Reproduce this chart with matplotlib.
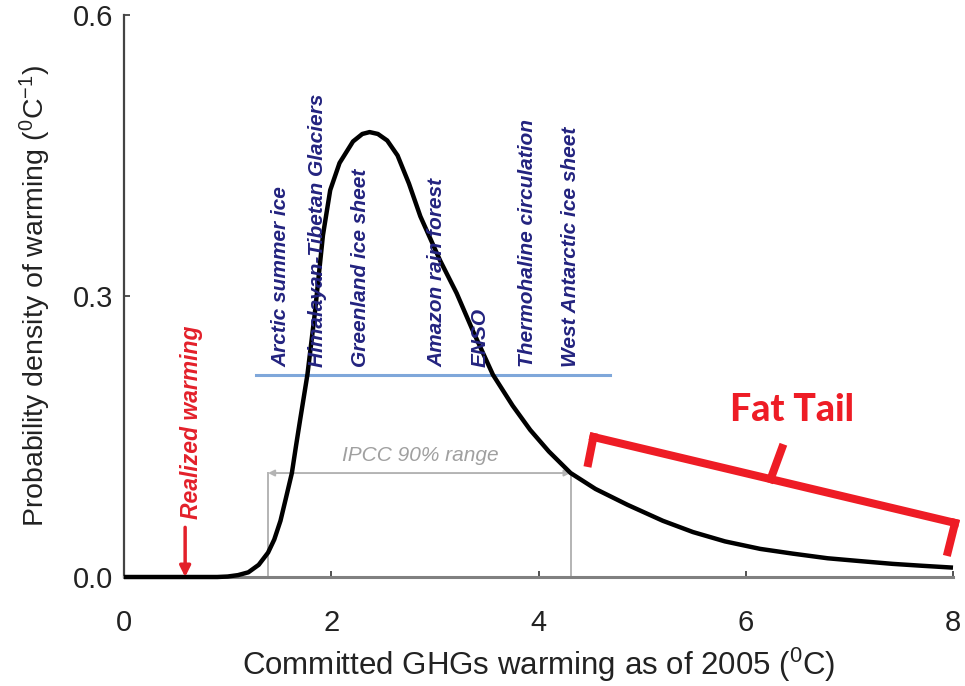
import matplotlib
matplotlib.use("Agg")
import matplotlib.pyplot as plt

plt.rcParams['font.family'] = ['Liberation Sans', 'DejaVu Sans']
plt.rcParams['mathtext.fontset'] = 'custom'
plt.rcParams['mathtext.rm'] = 'Liberation Sans'
plt.rcParams['mathtext.it'] = 'Liberation Sans:italic'

# ---- data ----
warming_x = [0.0, 0.5, 0.9, 1.0, 1.1, 1.2, 1.3, 1.39, 1.45, 1.51, 1.56, 1.62, 1.66,
             1.70, 1.77, 1.84, 1.92, 1.99, 2.08, 2.21, 2.30, 2.37, 2.45, 2.54, 2.64,
             2.75, 2.86, 3.05, 3.21, 3.37, 3.56, 3.75, 3.92, 4.10, 4.31, 4.55, 4.86,
             5.20, 5.49, 5.80, 6.14, 6.45, 6.79, 7.10, 7.42, 7.70, 8.0]
density_y = [0.0, 0.0, 0.0, 0.0005, 0.002, 0.005, 0.013, 0.026, 0.040, 0.060, 0.083,
             0.111, 0.140, 0.168, 0.216, 0.280, 0.365, 0.413, 0.442, 0.465, 0.473,
             0.475, 0.473, 0.466, 0.450, 0.420, 0.385, 0.338, 0.303, 0.262, 0.216,
             0.183, 0.157, 0.134, 0.111, 0.094, 0.077, 0.060, 0.048, 0.038, 0.030,
             0.025, 0.020, 0.017, 0.014, 0.012, 0.010]

tipping_labels = ["Arctic summer ice", "Himalayan-Tibetan Glaciers", "Greenland ice sheet",
                  "Amazon rain forest", "ENSO", "Thermohaline circulation",
                  "West Antarctic ice sheet"]
tipping_x = [1.51, 1.87, 2.28, 3.02, 3.44, 3.89, 4.31]
tipping_level = 0.216
tipping_span = [1.27, 4.69]

ipcc_range = [1.39, 4.31]
ipcc_level = 0.111
realized_warming = 0.59

x_ticks = [0, 2, 4, 6, 8]
y_ticks = [0.0, 0.3, 0.6]
y_tick_labels = ["0.0", "0.3", "0.6"]

# Fat-tail bracket anchors (data coords)
bracket_main = [(4.53, 0.1495), (8.02, 0.0577)]
bracket_left = [(4.48, 0.1217), (4.53, 0.1495)]
bracket_right = [(8.02, 0.0577), (7.95, 0.0267)]
bracket_mid = [(6.24, 0.1046), (6.35, 0.1377)]

# ---- figure ----
fig = plt.figure(figsize=(9.65, 6.86), dpi=100)
ax = fig.add_axes([124/965, 1-577/686, (953-124)/965, (577-15)/686])
ax.set_xlim(0, 8)
ax.set_ylim(0, 0.6)

for s in ['top', 'right']:
    ax.spines[s].set_visible(False)
ax.spines['left'].set_color('#444444')
ax.spines['left'].set_linewidth(1.6)
ax.spines['bottom'].set_color('#808080')
ax.spines['bottom'].set_linewidth(2.2)

ax.set_xticks(x_ticks)
ax.set_xticklabels([str(t) for t in x_ticks])
ax.set_yticks(y_ticks)
ax.set_yticklabels(y_tick_labels)
ax.tick_params(direction='in', length=4, width=1.2, colors='#333333',
               labelsize=21, labelcolor='#222222')
ax.tick_params(axis='x', pad=23)
ax.tick_params(axis='y', pad=8)

ax.set_xlabel(r'Committed GHGs warming as of 2005 ($^{0}$C)', fontsize=22.5,
              color='#222222', labelpad=6)
ax.set_ylabel(r'Probability density of warming ($^{0}$C$^{-1}$)', fontsize=20.5,
              color='#222222', labelpad=14)

# IPCC range
grey = '#b4b4b4'
for xv in ipcc_range:
    ax.plot([xv, xv], [0, ipcc_level], color=grey, lw=1.4, zorder=2)
ax.annotate('', xy=(ipcc_range[0], ipcc_level), xytext=(ipcc_range[1], ipcc_level),
            arrowprops=dict(arrowstyle='<|-|>', color=grey, lw=1.4,
                            mutation_scale=9, shrinkA=0, shrinkB=0), zorder=2)
ax.text(2.86, ipcc_level + 0.009, 'IPCC 90% range', fontsize=15,
        style='italic', color='#a0a0a0', ha='center', va='bottom')

# Tipping points line + labels
ax.plot(tipping_span, [tipping_level, tipping_level], color='#7fa7da', lw=2.2, zorder=2)
for lab, xv in zip(tipping_labels, tipping_x):
    ax.text(xv, tipping_level + 0.008, lab, rotation=90, ha='center', va='bottom',
            fontsize=15, fontweight='bold', style='italic', color='#23237f', zorder=4)

# Realized warming
red = '#e3202a'
ax.annotate('', xy=(realized_warming, 0.0), xytext=(realized_warming, 0.053),
            arrowprops=dict(arrowstyle='-|>', color=red, lw=2.5, mutation_scale=16,
                            shrinkA=0, shrinkB=0), zorder=5)
ax.text(realized_warming + 0.06, 0.062, 'Realized warming', rotation=90, ha='center',
        va='bottom', fontsize=16.5, fontweight='bold', style='italic', color=red)

# Density curve
ax.plot(warming_x, density_y, color='black', lw=3.2, zorder=3, clip_on=False,
        solid_capstyle='butt')

# Fat tail bracket
bred = '#ee1c25'
for seg in (bracket_main, bracket_left, bracket_right, bracket_mid):
    xs = [p[0] for p in seg]
    ys = [p[1] for p in seg]
    ax.plot(xs, ys, color=bred, lw=5.8, solid_capstyle='projecting', clip_on=False,
            zorder=4)
ax.text(6.45, 0.178, 'Fat Tail', fontsize=27, fontweight='black', color=bred,
        family=['Lato', 'DejaVu Sans'], ha='center', va='center')

fig.savefig('out.png', dpi=100)
